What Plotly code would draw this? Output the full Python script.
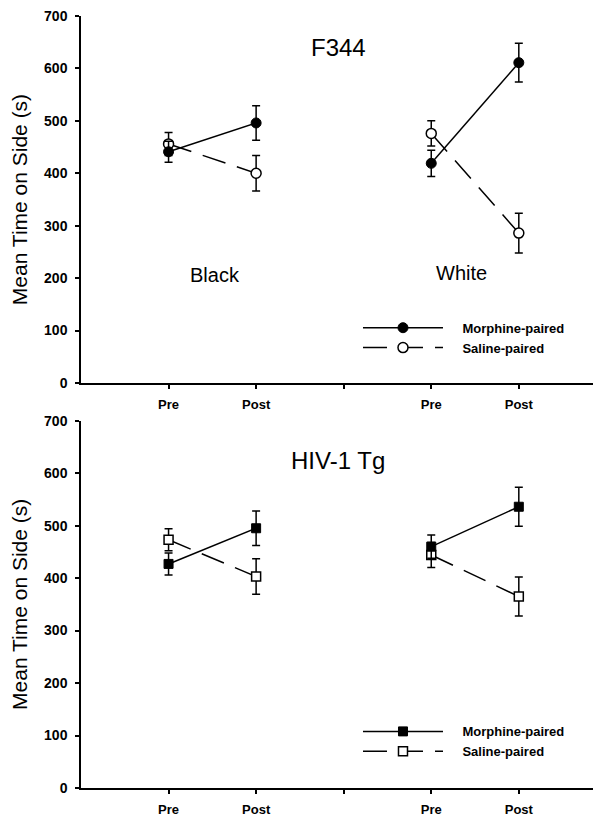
import plotly.graph_objects as go
from plotly.subplots import make_subplots

# ---- data ----
tick_positions = [1, 2, 3, 4, 5]
tick_labels = ["Pre", "Post", "", "Pre", "Post"]
x_pos = [1, 2, None, 4, 5]          # Black Pre, Black Post, gap, White Pre, White Post
side_labels = ["Black", "White"]

f344_morphine = [441, 496, None, 419, 611]
f344_morphine_sem = [20, 33, None, 25, 37]
f344_saline = [456, 400, None, 476, 286]
f344_saline_sem = [22, 34, None, 24, 38]

tg_morphine = [427, 495, None, 460, 536]
tg_morphine_sem = [21, 33, None, 22, 37]
tg_saline = [473, 403, None, 444, 365]
tg_saline_sem = [21, 34, None, 24, 37]

panel_titles = ["F344", "HIV-1 Tg"]
series_names = ["Morphine-paired", "Saline-paired"]
y_ticks = [0, 100, 200, 300, 400, 500, 600, 700]

FONT = "Arial, Liberation Sans, sans-serif"
pad = "\u00a0" * 4

fig = make_subplots(rows=2, cols=1, vertical_spacing=0.0488)

panels = [
    (1, f344_morphine, f344_morphine_sem, f344_saline, f344_saline_sem, "circle", 10, "legend"),
    (2, tg_morphine, tg_morphine_sem, tg_saline, tg_saline_sem, "square", 9, "legend2"),
]

for row, m, msem, s, ssem, sym, msize, leg in panels:
    fig.add_trace(go.Scatter(
        x=x_pos, y=s, mode="lines+markers", name=pad + series_names[1],
        connectgaps=False,
        line=dict(color="black", width=1.5, dash="24px,12px"),
        marker=dict(symbol=sym, size=msize, color="white", line=dict(color="black", width=1.5)),
        error_y=dict(type="data", array=ssem, color="black", thickness=1.5, width=4),
        legend=leg, legendrank=2,
    ), row=row, col=1)
    fig.add_trace(go.Scatter(
        x=x_pos, y=m, mode="lines+markers", name=pad + series_names[0],
        connectgaps=False,
        line=dict(color="black", width=1.5),
        marker=dict(symbol=sym, size=msize, color="black", line=dict(color="black", width=1)),
        error_y=dict(type="data", array=msem, color="black", thickness=1.5, width=4),
        legend=leg, legendrank=1,
    ), row=row, col=1)

axis_common_x = dict(
    range=[0, 6.03], tickvals=tick_positions, ticktext=tick_labels,
    showline=True, linecolor="black", linewidth=2, ticks="outside", ticklen=4,
    tickcolor="black", tickwidth=1.5, showgrid=False, zeroline=False,
    tickfont=dict(family=FONT, size=13, color="black", weight="bold"),
    ticklabelstandoff=4, automargin=False, ticklabeloverflow="allow",
)
axis_common_y = dict(
    range=[0, 700], tickvals=y_ticks, showline=True, linecolor="black", linewidth=1.5,
    ticks="outside", ticklen=4, tickcolor="black", tickwidth=1.5, showgrid=False,
    zeroline=False, tickfont=dict(family=FONT, size=14, color="black", weight="bold"),
    ticklabelstandoff=5, automargin=False, ticklabeloverflow="allow",
    title=dict(text="Mean Time on Side (s)", font=dict(family=FONT, size=21, color="black"), standoff=11),
)

fig.update_xaxes(**axis_common_x)
fig.update_yaxes(**axis_common_y)
fig.update_layout(
    xaxis=dict(domain=[0, 1]), xaxis2=dict(domain=[0, 1]),
    yaxis=dict(domain=[0.5246, 1.0]), yaxis2=dict(domain=[0.0, 0.4758]),
)

# panel titles and side labels
for i, ref in enumerate(["", "2"]):
    fig.add_annotation(x=2.94, y=[640, 625][i], xref="x" + ref, yref="y" + ref,
                       text=panel_titles[i], showarrow=False,
                       font=dict(family=FONT, size=24, color="black"))
fig.add_annotation(x=1.53, y=206, xref="x", yref="y", text=side_labels[0], showarrow=False,
                   font=dict(family=FONT, size=20, color="black"))
fig.add_annotation(x=4.35, y=209, xref="x", yref="y", text=side_labels[1], showarrow=False,
                   font=dict(family=FONT, size=20, color="black"))

legend_common = dict(
    bgcolor="rgba(0,0,0,0)", borderwidth=0, itemwidth=80, tracegroupgap=0,
    font=dict(family=FONT, size=13, color="black", weight="bold"),
    xanchor="left", yanchor="top", traceorder="normal",
)
fig.update_layout(
    legend=dict(x=0.5246, y=0.6156, **legend_common),
    legend2=dict(x=0.5246, y=0.0927, **legend_common),
)

fig.update_layout(
    width=601, height=816,
    margin=dict(l=73, r=0, t=8, b=36),
    paper_bgcolor="white", plot_bgcolor="white",
    showlegend=True,
)

fig.write_html("out.html")
